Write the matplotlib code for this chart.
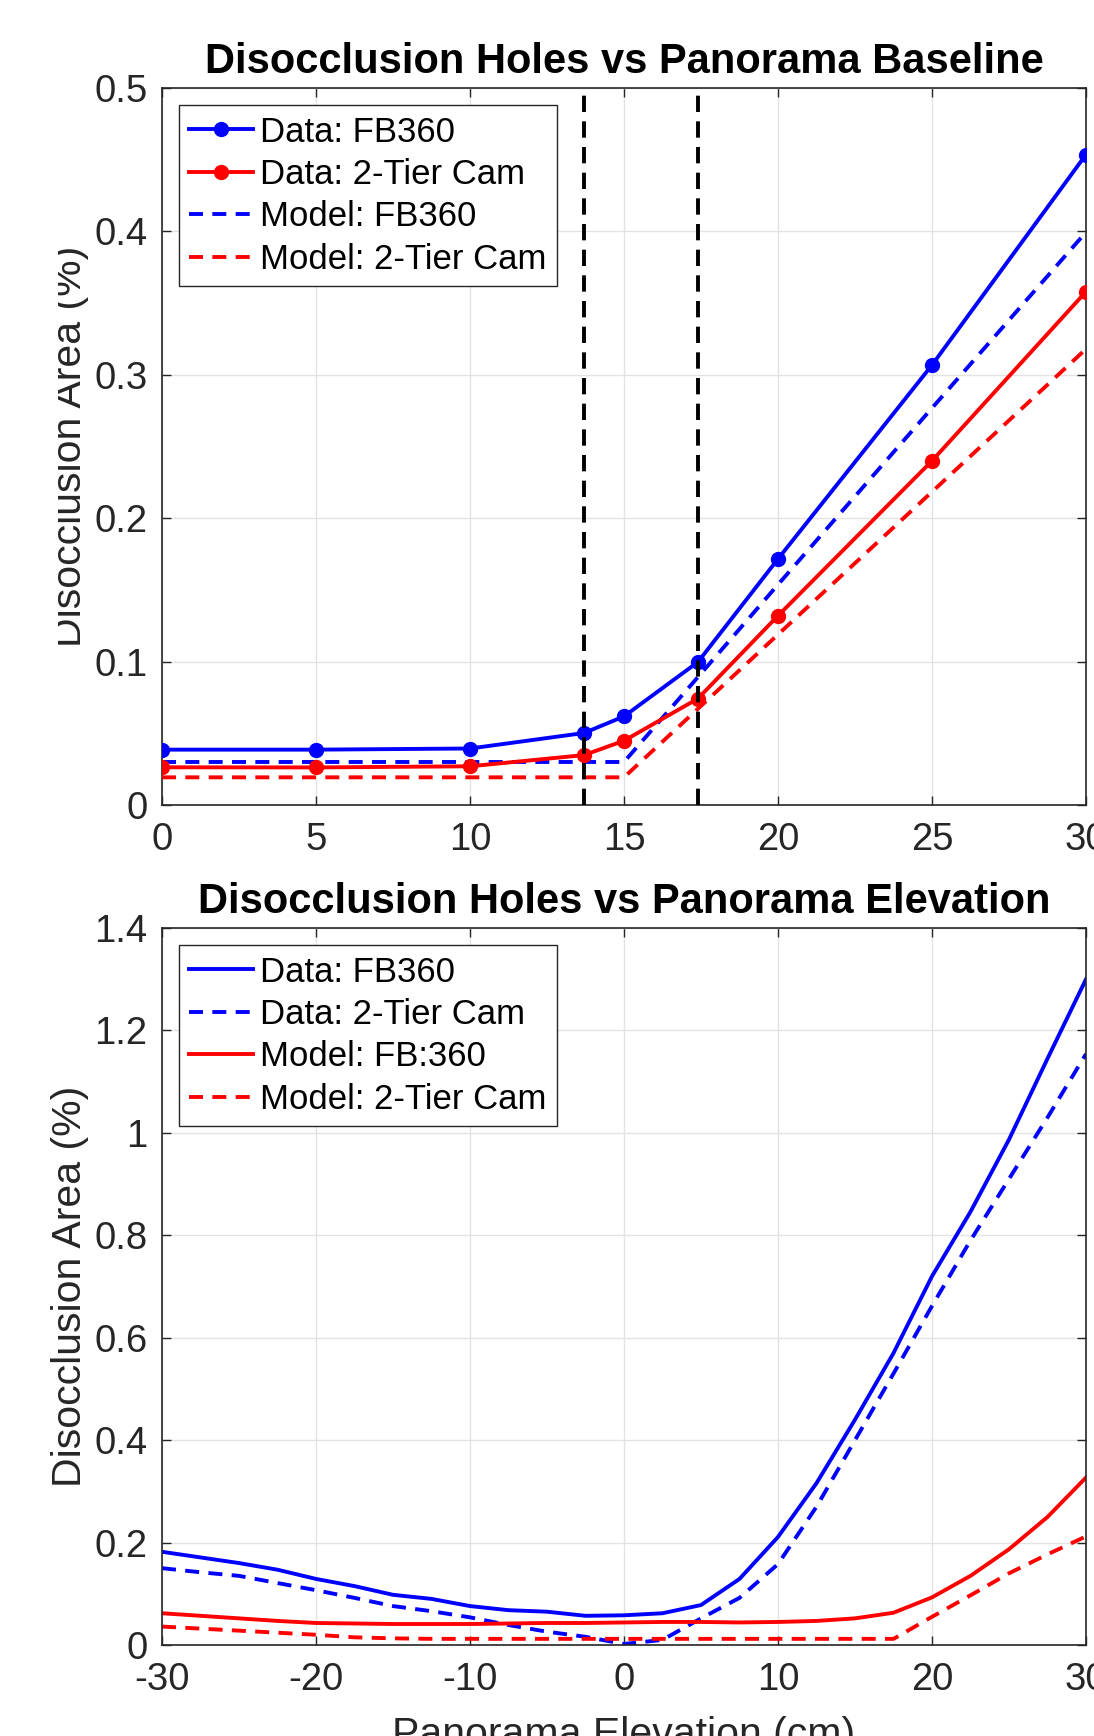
import matplotlib
matplotlib.use("Agg")
import matplotlib.pyplot as plt
from matplotlib.transforms import Bbox
import numpy as np

plt.rcParams['font.family'] = ['Liberation Sans', 'DejaVu Sans']
plt.rcParams['axes.unicode_minus'] = False

# --- top panel: disocclusion vs baseline ---
baseline = [0, 5, 10, 13.7, 15, 17.4, 20, 25, 30]
data_fb360 = [0.0386, 0.0386, 0.0394, 0.0502, 0.0618, 0.0997, 0.1716, 0.3068, 0.4536]
data_2tier = [0.0263, 0.0262, 0.0270, 0.0348, 0.0448, 0.0742, 0.1320, 0.2400, 0.3580]
model_fb360 = [0.030, 0.030, 0.030, 0.030, 0.030, 0.0892, 0.1537, 0.2768, 0.3995]
model_2tier = [0.0193, 0.0193, 0.0193, 0.0193, 0.0193, 0.0671, 0.1189, 0.2184, 0.3180]
thresholds = [13.7, 17.4]

# --- bottom panel: disocclusion vs elevation ---
elevation = [-30, -27.5, -25, -22.5, -20, -17.5, -15, -12.5, -10, -7.5, -5, -2.5,
             0, 2.5, 5, 7.5, 10, 12.5, 15, 17.5, 20, 22.5, 25, 27.5, 30]
elev_data_fb360 = [0.182, 0.171, 0.160, 0.147, 0.129, 0.115, 0.098, 0.090, 0.076, 0.068,
                   0.065, 0.057, 0.058, 0.062, 0.078, 0.129, 0.211, 0.316, 0.440, 0.570,
                   0.720, 0.846, 0.987, 1.145, 1.300]
elev_data_2tier = [0.150, 0.142, 0.135, 0.121, 0.107, 0.092, 0.076, 0.066, 0.054, 0.039,
                   0.026, 0.016, 0.002, 0.010, 0.052, 0.092, 0.158, 0.270, 0.400, 0.530,
                   0.662, 0.790, 0.910, 1.030, 1.154]
elev_model_fb360 = [0.062, 0.057, 0.052, 0.047, 0.043, 0.042, 0.041, 0.041, 0.041, 0.042,
                    0.043, 0.043, 0.044, 0.045, 0.045, 0.044, 0.045, 0.047, 0.052, 0.063,
                    0.093, 0.135, 0.187, 0.250, 0.327]
elev_model_2tier = [0.036, 0.032, 0.028, 0.024, 0.020, 0.015, 0.013, 0.012, 0.012, 0.012,
                    0.012, 0.012, 0.012, 0.012, 0.012, 0.012, 0.012, 0.012, 0.012, 0.012,
                    0.055, 0.097, 0.140, 0.177, 0.212]

W, H = 1094, 1736
fig = plt.figure(figsize=(W / 100, H / 100), dpi=100)

ax1 = fig.add_axes([162 / W, 1 - 805 / H, 924 / W, 717 / H])
ax2 = fig.add_axes([162 / W, 1 - 1645 / H, 924 / W, 717 / H])

lw = 2.8
dash = (3.6, 2.4)
mcol = '#262626'

ax1.plot(baseline, data_fb360, color='#0000ff', lw=lw, marker='o', ms=10,
         label='Data: FB360', zorder=5)
ax1.plot(baseline, data_2tier, color='#ff0000', lw=lw, marker='o', ms=10,
         label='Data: 2-Tier Cam', zorder=5)
ax1.plot(baseline, model_fb360, color='#0000ff', lw=lw, ls=(0, dash),
         label='Model: FB360', zorder=4)
ax1.plot(baseline, model_2tier, color='#ff0000', lw=lw, ls=(0, dash),
         label='Model: 2-Tier Cam', zorder=4)
for t in thresholds:
    ax1.axvline(t, color='black', lw=lw, ls=(0, (4.2, 2.4)), zorder=6)

ax2.plot(elevation, elev_data_fb360, color='#0000ff', lw=lw, label='Data: FB360')
ax2.plot(elevation, elev_data_2tier, color='#0000ff', lw=lw, ls=(0, dash),
         label='Data: 2-Tier Cam')
ax2.plot(elevation, elev_model_fb360, color='#ff0000', lw=lw, label='Model: FB:360')
ax2.plot(elevation, elev_model_2tier, color='#ff0000', lw=lw, ls=(0, dash),
         label='Model: 2-Tier Cam')

ax1.set_xlim(0, 30)
ax1.set_ylim(0, 0.5)
ax1.set_xticks([0, 5, 10, 15, 20, 25, 30])
ax1.set_yticks([0, 0.1, 0.2, 0.3, 0.4, 0.5])
ax1.set_yticklabels(['0', '0.1', '0.2', '0.3', '0.4', '0.5'])

ax2.set_xlim(-30, 30)
ax2.set_ylim(0, 1.4)
ax2.set_xticks([-30, -20, -10, 0, 10, 20, 30])
ax2.set_yticks([0, 0.2, 0.4, 0.6, 0.8, 1.0, 1.2, 1.4])
ax2.set_yticklabels(['0', '0.2', '0.4', '0.6', '0.8', '1', '1.2', '1.4'])

titles = ['Disocclusion Holes vs Panorama Baseline',
          'Disocclusion Holes vs Panorama Elevation']
for ax, title in zip([ax1, ax2], titles):
    ax.grid(True, color='#e3e3e3', lw=1.0)
    ax.set_axisbelow(True)
    for s in ax.spines.values():
        s.set_color(mcol)
        s.set_linewidth(1.2)
    ax.tick_params(direction='in', length=6.5, width=1.0, color=mcol,
                   labelcolor=mcol, labelsize=27.5, top=True, right=True)
    ax.tick_params(axis='x', pad=12)
    ax.tick_params(axis='y', pad=10.5)
    ax.set_title(title, fontsize=30, fontweight='bold', pad=11)
    ax.set_ylabel('Disocclusion Area (%)', fontsize=29.5, color=mcol, labelpad=4)
    leg = ax.legend(loc='upper left', bbox_to_anchor=(0.018, 0.976),
                    borderaxespad=0, fontsize=25, fancybox=False, framealpha=1,
                    edgecolor=mcol, handlelength=1.85, handletextpad=0.2,
                    labelspacing=0.27, borderpad=0.3)
    leg.get_frame().set_linewidth(1.0)

ax2.set_xlabel('Panorama Elevation (cm)', fontsize=29.5, color=mcol, labelpad=13)

# the upper y label is cut on its left side in the source figure
yl = ax1.yaxis.label
yl.set_clip_box(Bbox.from_extents(58, 0, W, H))
yl.set_clip_on(True)

fig.savefig('out.png', dpi=100)
